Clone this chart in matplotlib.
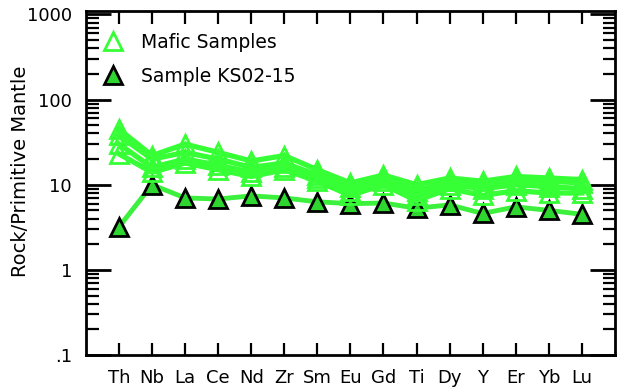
import matplotlib
matplotlib.use("Agg")
import matplotlib.pyplot as plt
from matplotlib.lines import Line2D
from matplotlib.ticker import FixedLocator, FixedFormatter, LogLocator, NullFormatter

plt.rcParams['font.family'] = ['DejaVu Sans']

elements = ['Th', 'Nb', 'La', 'Ce', 'Nd', 'Zr', 'Sm', 'Eu', 'Gd', 'Ti', 'Dy', 'Y', 'Er', 'Yb', 'Lu']

# primitive-mantle normalised values
mafic_1 = [45, 22, 30, 24, 19, 22, 15, 10.5, 13, 10, 12, 11, 12.5, 12, 11.5]
mafic_2 = [38, 20, 24, 20, 16, 18, 13, 9.5, 12, 8.5, 11, 10, 11, 11, 10.5]
mafic_3 = [30, 16, 20, 17, 14, 16, 12, 8.5, 11, 7.5, 10, 9, 10, 9.5, 9]
mafic_4 = [23, 14, 18, 15, 12.5, 15, 11, 7.5, 10, 6.5, 9, 7.5, 8.5, 8, 8]
ks02_15 = [3.2, 10, 7.0, 6.8, 7.4, 7.0, 6.3, 6.0, 6.1, 5.3, 5.8, 4.6, 5.5, 5.0, 4.5]

mafic_green = '#36ff36'
ks_line = '#3df03d'
ks_fill = '#2fd62f'

x = list(range(1, len(elements) + 1))

fig = plt.figure(figsize=(6.18, 3.91), dpi=100)
ax = fig.add_axes([0.139, 0.092, 0.856, 0.880])

ax.plot(x, ks02_15, color=ks_line, lw=3.5, marker='^', ms=13,
        mfc=ks_fill, mec='black', mew=2, zorder=2)
for m in [mafic_1, mafic_2, mafic_3, mafic_4]:
    ax.plot(x, m, color=mafic_green, lw=3.8, marker='^', ms=13,
            mfc='none', mec=mafic_green, mew=2, zorder=3)

ax.set_yscale('log')
ax.set_ylim(0.1, 1100)
ax.set_xlim(0, 16)

ax.yaxis.set_major_locator(FixedLocator([0.1, 1, 10, 100, 1000]))
ax.yaxis.set_major_formatter(FixedFormatter(['.1', '1', '10', '100', '1000']))
ax.yaxis.set_minor_locator(LogLocator(base=10, subs=range(2, 10), numticks=20))
ax.yaxis.set_minor_formatter(NullFormatter())
ax.set_xticks(x)
ax.set_xticklabels(elements)

ax.tick_params(axis='y', which='major', direction='in', length=18, width=2,
               left=True, right=True, labelsize=13, pad=10)
ax.tick_params(axis='y', which='minor', direction='in', length=9, width=1.6,
               left=True, right=True)
ax.tick_params(axis='x', which='major', direction='in', length=9, width=1.6,
               top=True, bottom=True, labelsize=13, pad=10)
for s in ax.spines.values():
    s.set_linewidth(2)

ax.set_ylabel('Rock/Primitive Mantle', fontsize=14)
ax.yaxis.set_label_coords(-0.106, 0.535)

handles = [
    Line2D([], [], ls='none', marker='^', ms=13, mfc='none', mec=mafic_green, mew=2),
    Line2D([], [], ls='none', marker='^', ms=13, mfc=ks_fill, mec='black', mew=2),
]
ax.legend(handles, ['Mafic Samples', 'Sample KS02-15'], loc='upper left',
          frameon=False, fontsize=13.5, handletextpad=0.5, labelspacing=0.8,
          borderaxespad=0.5, bbox_to_anchor=(-0.016, 0.985))

fig.savefig('out.png', dpi=100)
